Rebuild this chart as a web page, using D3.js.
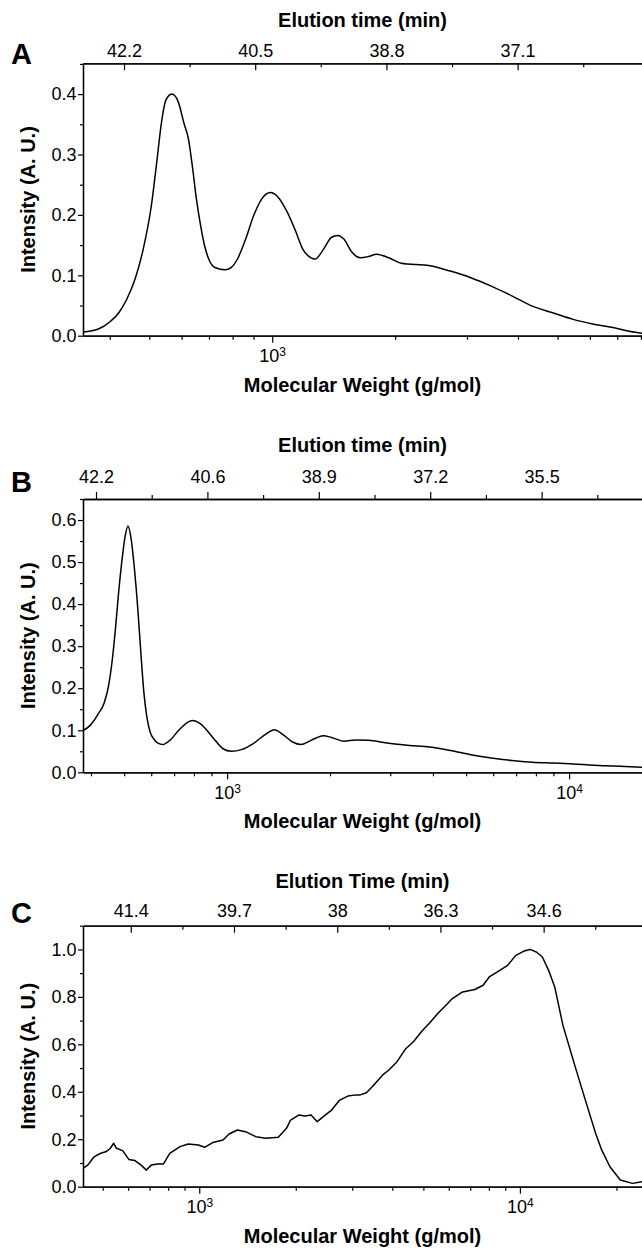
<!DOCTYPE html>
<html>
<head>
<meta charset="utf-8">
<script src="https://cdn.jsdelivr.net/npm/d3@7"></script>
<style>
body { margin: 0; background: #fff; }
text { font-family: "Liberation Sans", Arial, sans-serif; fill: #000; }
</style>
</head>
<body>
<script>
var w = 642;
var h = 1249;
var left = 83;

// Panel A: molecular weight (g/mol) vs intensity
var mwA = [344, 375, 402, 421, 440, 461, 483, 506, 522, 536, 549, 568, 588, 609, 623, 637, 652, 668, 683, 699,
           724, 767, 794, 822, 861, 901, 944, 989, 1035, 1084, 1135, 1189, 1245, 1274, 1335, 1398, 1447, 1498,
           1569, 1643, 1720, 1802, 1931, 2070, 2433, 2731, 3066, 3441, 3863, 4335, 4866, 5461, 6130, 6880, 7545, 8050];
var intA = [0.006, 0.011, 0.024, 0.038, 0.06, 0.093, 0.143, 0.216, 0.29, 0.355, 0.39, 0.40, 0.388, 0.35, 0.327,
            0.282, 0.227, 0.182, 0.149, 0.127, 0.113, 0.109, 0.113, 0.127, 0.16, 0.199, 0.227, 0.237, 0.229, 0.207,
            0.177, 0.143, 0.129, 0.127, 0.143, 0.163, 0.166, 0.16, 0.138, 0.129, 0.131, 0.135, 0.129, 0.12, 0.116,
            0.107, 0.096, 0.082, 0.066, 0.049, 0.038, 0.027, 0.019, 0.013, 0.007, 0.004];
var topLabelsA = ["42.2", "40.5", "38.8", "37.1"];

// Panel B
var mwB = [379, 397, 420, 437, 450, 462, 472, 482, 492, 503, 513, 523, 535, 548, 560, 571, 583, 596, 612, 626,
           649, 680, 728, 791, 836, 908, 973, 1028, 1101, 1196, 1299, 1373, 1451, 1554, 1643, 1760, 1911, 2020,
           2194, 2384, 2589, 2972, 3412, 3915, 4495, 5160, 5923, 6798, 7804, 8956, 10280, 11800, 13540, 16340];
var intB = [0.099, 0.111, 0.139, 0.165, 0.205, 0.27, 0.345, 0.43, 0.50, 0.56, 0.586, 0.56, 0.49, 0.39, 0.28,
            0.19, 0.13, 0.095, 0.078, 0.07, 0.066, 0.076, 0.103, 0.123, 0.115, 0.083, 0.056, 0.05, 0.054, 0.069,
            0.091, 0.101, 0.091, 0.072, 0.066, 0.076, 0.087, 0.083, 0.074, 0.077, 0.076, 0.069, 0.064, 0.06, 0.052,
            0.042, 0.034, 0.028, 0.024, 0.022, 0.02, 0.017, 0.015, 0.012];
var topLabelsB = ["42.2", "40.6", "38.9", "37.2", "35.5"];

// Panel C
var mwC = [434, 449, 470, 491, 513, 528, 541, 552, 577, 603, 630, 659, 684, 709, 741, 774, 809, 871, 924, 994,
           1039, 1102, 1186, 1239, 1315, 1394, 1501, 1615, 1764, 1871, 1927, 2043, 2136, 2232, 2333, 2438, 2586,
           2742, 2908, 3084, 3176, 3320, 3469, 3734, 3903, 4139, 4389, 4655, 4937, 5236, 5554, 5890, 6156, 6627,
           7237, 7677, 8023, 8507, 9157, 9710, 10300, 10760, 11250, 11750, 12290, 12840, 13620, 14870, 16000,
           17220, 17990, 19090, 20560, 22440, 24030];
var intC = [0.077, 0.091, 0.126, 0.14, 0.148, 0.162, 0.183, 0.162, 0.152, 0.115, 0.11, 0.091, 0.07, 0.091, 0.096,
            0.096, 0.14, 0.169, 0.18, 0.176, 0.166, 0.186, 0.197, 0.222, 0.239, 0.232, 0.211, 0.204, 0.208, 0.246,
            0.281, 0.302, 0.298, 0.302, 0.274, 0.295, 0.323, 0.365, 0.382, 0.387, 0.387, 0.396, 0.422, 0.471, 0.492,
            0.527, 0.579, 0.611, 0.654, 0.691, 0.731, 0.766, 0.793, 0.821, 0.831, 0.849, 0.884, 0.905, 0.933, 0.975,
            0.993, 1.0, 0.989, 0.968, 0.912, 0.842, 0.68, 0.506, 0.365, 0.225, 0.155, 0.084, 0.028, 0.014, 0.021];
var topLabelsC = ["41.4", "39.7", "38", "36.3", "34.6"];

var panels = [
  { letter: "A", title: "Elution time (min)", mw: mwA, val: intA, labels: topLabelsA,
    top: 63.3, bottom: 335.7, xDom: [344, 8050], yMax: 0.451, yStep: 0.1,
    topDom: [-0.3125, 3.948], topIn: true, topPad: 6.6, titleY: 27, letterY: 64, curve: d3.curveMonotoneX },
  { letter: "B", title: "Elution time (min)", mw: mwB, val: intB, labels: topLabelsB,
    top: 499, bottom: 772.3, xDom: [379, 16340], yMax: 0.65, yStep: 0.1,
    topDom: [-0.1167, 4.901], topIn: false, topPad: 9, titleY: 452, letterY: 492, curve: d3.curveMonotoneX },
  { letter: "C", title: "Elution Time (min)", mw: mwC, val: intC, labels: topLabelsC,
    top: 925.7, bottom: 1186.7, xDom: [434, 24030], yMax: 1.1, yStep: 0.2,
    topDom: [-0.463, 4.953], topIn: true, topPad: 8.7, titleY: 888, letterY: 923, curve: d3.curveLinear }
];

var svg = d3.select("body")
    .append("svg")
    .attr("width", w)
    .attr("height", h);

function styleAxis(g) {
  g.attr("font-family", null).attr("font-size", null);
  g.selectAll("path.domain").attr("stroke", "#000").attr("stroke-width", 1.3);
  g.selectAll(".tick line").attr("stroke", "#000").attr("stroke-width", 1.2);
  g.selectAll(".tick text").attr("font-size", 18).attr("fill", "#000");
}

panels.forEach(function(p, i) {
  var g = svg.append("g");

  var x = d3.scaleLog().domain(p.xDom).range([left, w]);
  var y = d3.scaleLinear().domain([0, p.yMax]).range([p.bottom, p.top]);
  var xt = d3.scaleLinear().domain(p.topDom).range([left, w]);

  // bottom axis: powers of ten + minor log ticks
  var lo = Math.floor(Math.log10(p.xDom[0])), hi = Math.ceil(Math.log10(p.xDom[1]));
  var majors = [], minors = [];
  for (var e = lo; e <= hi; e++) {
    for (var k = 1; k < 10; k++) {
      var v = k * Math.pow(10, e);
      if (v < p.xDom[0] || v > p.xDom[1]) continue;
      if (k === 1) majors.push(v); else minors.push(v);
    }
  }
  g.append("g").attr("transform", "translate(0," + p.bottom + ")")
    .call(d3.axisBottom(x).tickValues(minors).tickFormat(function() { return ""; })
      .tickSize(4).tickSizeOuter(0))
    .call(styleAxis);
  var bx = g.append("g").attr("transform", "translate(0," + p.bottom + ")")
    .call(d3.axisBottom(x).tickValues(majors).tickSize(7).tickPadding(7).tickSizeOuter(0))
    .call(styleAxis);
  bx.selectAll(".tick text").each(function(d) {
    var t = d3.select(this);
    t.text("10");
    t.append("tspan").attr("dy", "-0.5em").attr("font-size", 12).text(Math.round(Math.log10(d)));
  });

  // top axis: elution time
  var n = p.labels.length;
  var topMinor = [];
  for (var j = -0.5; j < p.topDom[1]; j += 1) {
    if (j > p.topDom[0]) topMinor.push(j);
  }
  var sign = p.topIn ? -1 : 1;
  g.append("g").attr("transform", "translate(0," + p.top + ")")
    .call(d3.axisTop(xt).tickValues(topMinor).tickFormat(function() { return ""; })
      .tickSize(4 * sign).tickSizeOuter(0))
    .call(styleAxis);
  g.append("g").attr("transform", "translate(0," + p.top + ")")
    .call(d3.axisTop(xt).tickValues(d3.range(n)).tickFormat(function(d) { return p.labels[d]; })
      .tickSize(7 * sign).tickPadding(p.topPad).tickSizeOuter(0))
    .call(styleAxis);

  // left axis
  var yMaj = d3.range(0, p.yMax + 1e-9, p.yStep);
  var yMin = d3.range(p.yStep / 2, p.yMax + 1e-9, p.yStep);
  g.append("g").attr("transform", "translate(" + left + ",0)")
    .call(d3.axisLeft(y).tickValues(yMin).tickFormat(function() { return ""; })
      .tickSize(3).tickSizeOuter(0))
    .call(styleAxis);
  g.append("g").attr("transform", "translate(" + left + ",0)")
    .call(d3.axisLeft(y).tickValues(yMaj).tickFormat(d3.format(".1f"))
      .tickSize(5).tickPadding(1.5).tickSizeOuter(0))
    .call(styleAxis);

  // curve
  svg.append("clipPath").attr("id", "clip" + i)
    .append("rect").attr("x", left).attr("y", p.top).attr("width", w - left).attr("height", p.bottom - p.top);
  var pts = p.mw.map(function(m, k) { return [m, p.val[k]]; });
  g.append("path")
    .datum(pts)
    .attr("clip-path", "url(#clip" + i + ")")
    .attr("fill", "none")
    .attr("stroke", "#000")
    .attr("stroke-width", 1.5)
    .attr("stroke-linejoin", "round")
    .attr("d", d3.line().curve(p.curve)
      .x(function(d) { return x(d[0]); })
      .y(function(d) { return y(d[1]); }));

  // texts
  var cx = (left + w) / 2;
  g.append("text").attr("x", cx).attr("y", p.titleY).attr("text-anchor", "middle")
    .attr("font-size", 20).attr("font-weight", "bold").text(p.title);
  g.append("text").attr("x", cx).attr("y", p.bottom + 56).attr("text-anchor", "middle")
    .attr("font-size", 20).attr("font-weight", "bold").text("Molecular Weight (g/mol)");
  g.append("text").attr("transform", "translate(35," + ((p.top + p.bottom) / 2) + ") rotate(-90)")
    .attr("text-anchor", "middle").attr("font-size", 20).attr("font-weight", "bold")
    .text("Intensity (A. U.)");
  g.append("text").attr("x", 11).attr("y", p.letterY)
    .attr("font-size", 29).attr("font-weight", "bold").text(p.letter);
});
</script>
</body>
</html>
